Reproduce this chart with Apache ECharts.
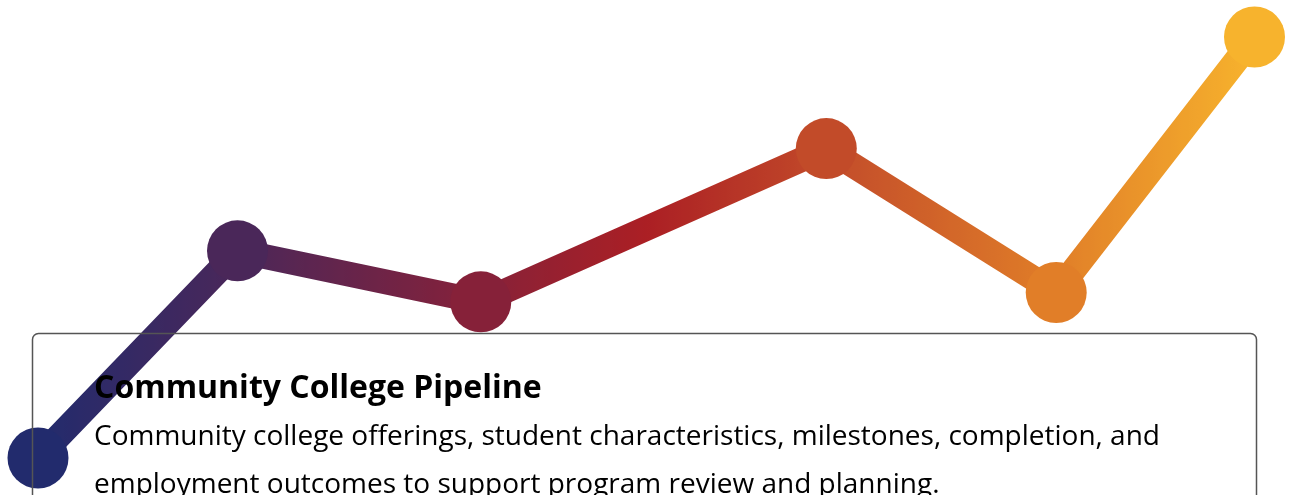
<!DOCTYPE html>
<html>
<head>
<meta charset="utf-8">
<script src="https://cdn.jsdelivr.net/npm/echarts@6/dist/echarts.min.js"></script>
<style>
html,body{margin:0;padding:0;background:#fff;}
#chart{width:1292px;height:495px;}
</style>
</head>
<body>
<div id="chart"></div>
<script>
var xValues = [0, 16.4, 36.4, 64.8, 83.7, 100];
var yValues = [0, 49.2, 37.1, 73.5, 39.3, 100];
var gradientColors = ['#222b6d', '#4b2759', '#7e223e', '#ab1f24', '#c5502a', '#e07d28', '#f7b32d'];
var titleText = 'Community College Pipeline';
var bodyLines = [
  'Community college offerings, student characteristics, milestones, completion, and',
  'employment outcomes to support program review and planning.'
];

var chart = echarts.init(document.getElementById('chart'));
var points = xValues.map(function (x, i) { return [x, yValues[i]]; });

chart.setOption({
  animation: false,
  grid: { left: 38, right: 37.5, top: 37, bottom: 37 },
  xAxis: { type: 'value', min: 0, max: 100, show: false },
  yAxis: { type: 'value', min: 0, max: 100, show: false },
  visualMap: {
    show: false,
    type: 'continuous',
    dimension: 0,
    min: 0,
    max: 100,
    inRange: { color: gradientColors }
  },
  series: [{
    type: 'line',
    data: points,
    symbol: 'circle',
    symbolSize: 61,
    lineStyle: { width: 25 },
    itemStyle: { opacity: 1 },
    z: 2
  }],
  graphic: [
    {
      type: 'rect',
      z: 100,
      shape: { x: 32.5, y: 333.5, width: 1224, height: 200, r: 6 },
      style: { fill: 'rgba(255,255,255,0)', stroke: '#555', lineWidth: 1.5 }
    },
    {
      type: 'text',
      z: 101,
      x: 94,
      y: 389,
      style: {
        text: titleText,
        font: 'bold 32px "Open Sans"',
        fill: '#000',
        textVerticalAlign: 'middle'
      }
    },
    {
      type: 'text',
      z: 101,
      x: 94,
      y: 437,
      style: {
        text: bodyLines[0],
        font: '28px "Open Sans"',
        fill: '#000',
        textVerticalAlign: 'middle'
      }
    },
    {
      type: 'text',
      z: 101,
      x: 94,
      y: 485,
      style: {
        text: bodyLines[1],
        font: '28px "Open Sans"',
        fill: '#000',
        textVerticalAlign: 'middle'
      }
    }
  ]
});
</script>
</body>
</html>
